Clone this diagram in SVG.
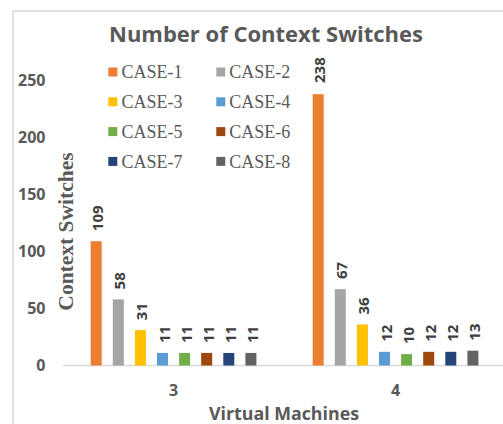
<svg xmlns="http://www.w3.org/2000/svg" width="503" height="424" viewBox="0 0 503 424">
<style>
.t{font-family:"Open Sans","DejaVu Sans",sans-serif;font-weight:bold;fill:#595959}
.tick{font-size:16px;text-anchor:end}
.cat{font-size:16px;text-anchor:middle}
.dl{font-family:"Open Sans","DejaVu Sans",sans-serif;font-weight:bold;font-size:15px;fill:#404040}
.lg{font-family:"Liberation Serif","Times New Roman",serif;font-size:18px;fill:#595959}
.c1{fill:#ED7D31}.c2{fill:#A5A5A5}.c3{fill:#FFC000}.c4{fill:#5B9BD5}
.c5{fill:#70AD47}.c6{fill:#9E480E}.c7{fill:#264478}.c8{fill:#636363}
</style>
<rect x="0" y="0" width="503" height="424" fill="#ffffff"/>
<rect x="13" y="11" width="500" height="420" fill="#ffffff" stroke="#d9d9d9" stroke-width="1.5"/>
<text class="t" x="266" y="41.5" font-size="22" text-anchor="middle">Number of Context Switches</text>
<g id="y-axis">
<text class="t tick" x="45.5" y="371.2">0</text>
<text class="t tick" x="45.5" y="314.2">50</text>
<text class="t tick" x="45.5" y="257.2">100</text>
<text class="t tick" x="45.5" y="200.2">150</text>
<text class="t tick" x="45.5" y="143.2">200</text>
<text class="t tick" x="45.5" y="86.2">250</text>
<text font-family="'Liberation Serif','Times New Roman',serif" font-weight="bold" font-size="21.5" fill="#595959" text-anchor="middle" transform="translate(72.5,231.5) rotate(-90)">Context Switches</text>
</g>
<g id="x-axis">
<line x1="63" y1="365.5" x2="503" y2="365.5" stroke="#d9d9d9" stroke-width="1.5"/>
<text class="t cat" x="173.7" y="395.5">3</text>
<text class="t cat" x="395.7" y="395.5">4</text>
<text class="t" x="284" y="419.5" font-size="17.8" text-anchor="middle">Virtual Machines</text>
</g>
<g id="legend">
<rect class="c1" x="108.3" y="67.5" width="9" height="9"/><text class="lg" x="121.5" y="78.3">CASE-1</text>
<rect class="c2" x="216.3" y="67.5" width="9" height="9"/><text class="lg" x="229.3" y="78.3">CASE-2</text>
<rect class="c3" x="108.3" y="97.3" width="9" height="9"/><text class="lg" x="121.5" y="108.1">CASE-3</text>
<rect class="c4" x="216.3" y="97.3" width="9" height="9"/><text class="lg" x="229.3" y="108.1">CASE-4</text>
<rect class="c5" x="108.3" y="127.1" width="9" height="9"/><text class="lg" x="121.5" y="137.9">CASE-5</text>
<rect class="c6" x="216.3" y="127.1" width="9" height="9"/><text class="lg" x="229.3" y="137.9">CASE-6</text>
<rect class="c7" x="108.3" y="156.9" width="9" height="9"/><text class="lg" x="121.5" y="167.7">CASE-7</text>
<rect class="c8" x="216.3" y="156.9" width="9" height="9"/><text class="lg" x="229.3" y="167.7">CASE-8</text>
</g>
<g id="vm3">
<rect class="c1" x="90.7" y="241.24" width="11" height="124.26"/>
<rect class="c2" x="112.8" y="299.38" width="11" height="66.12"/>
<rect class="c3" x="134.9" y="330.16" width="11" height="35.34"/>
<rect class="c4" x="157.0" y="352.96" width="11" height="12.54"/>
<rect class="c5" x="179.1" y="352.96" width="11" height="12.54"/>
<rect class="c6" x="201.2" y="352.96" width="11" height="12.54"/>
<rect class="c7" x="223.3" y="352.96" width="11" height="12.54"/>
<rect class="c8" x="245.4" y="352.96" width="11" height="12.54"/>
<text class="dl" transform="translate(103.2,231.2) rotate(-90)">109</text>
<text class="dl" transform="translate(125.3,289.4) rotate(-90)">58</text>
<text class="dl" transform="translate(147.4,320.2) rotate(-90)">31</text>
<text class="dl" transform="translate(169.5,343) rotate(-90)">11</text>
<text class="dl" transform="translate(191.6,343) rotate(-90)">11</text>
<text class="dl" transform="translate(213.7,343) rotate(-90)">11</text>
<text class="dl" transform="translate(235.8,343) rotate(-90)">11</text>
<text class="dl" transform="translate(257.9,343) rotate(-90)">11</text>
</g>
<g id="vm4">
<rect class="c1" x="312.7" y="94.18" width="11" height="271.32"/>
<rect class="c2" x="334.8" y="289.12" width="11" height="76.38"/>
<rect class="c3" x="356.9" y="324.46" width="11" height="41.04"/>
<rect class="c4" x="379.0" y="351.82" width="11" height="13.68"/>
<rect class="c5" x="401.1" y="354.1" width="11" height="11.4"/>
<rect class="c6" x="423.2" y="351.82" width="11" height="13.68"/>
<rect class="c7" x="445.3" y="351.82" width="11" height="13.68"/>
<rect class="c8" x="467.4" y="350.68" width="11" height="14.82"/>
<text class="dl" transform="translate(325.2,83) rotate(-90)">238</text>
<text class="dl" transform="translate(347.3,279.1) rotate(-90)">67</text>
<text class="dl" transform="translate(369.4,314.5) rotate(-90)">36</text>
<text class="dl" transform="translate(391.5,341.8) rotate(-90)">12</text>
<text class="dl" transform="translate(413.6,344.1) rotate(-90)">10</text>
<text class="dl" transform="translate(435.7,341.8) rotate(-90)">12</text>
<text class="dl" transform="translate(457.8,341.8) rotate(-90)">12</text>
<text class="dl" transform="translate(479.9,340.7) rotate(-90)">13</text>
</g>
</svg>
